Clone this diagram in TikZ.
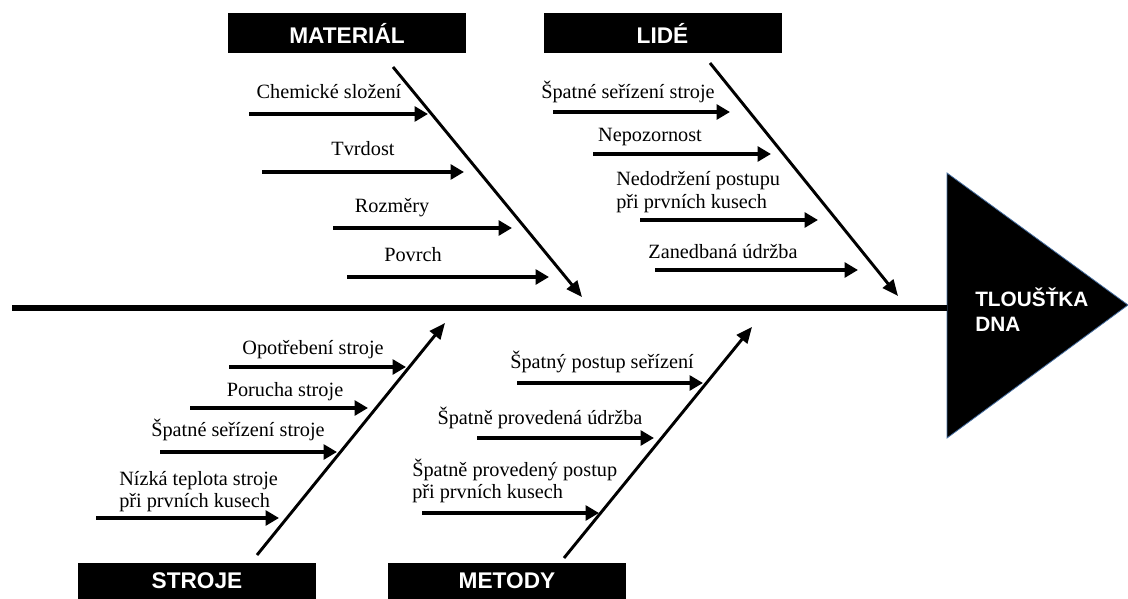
\documentclass[tikz,border=0pt]{standalone}
\usepackage{fontspec}
\setmainfont{Liberation Serif}
\setsansfont{Liberation Sans}
\usetikzlibrary{arrows.meta}

\tikzset{
  cathead/.style={fill=black, text=white, inner sep=0pt,
    font=\sffamily\bfseries\fontsize{17}{19}\selectfont,
    minimum width=178.5pt, minimum height=30pt},
  cause/.style={inner sep=0pt, font=\fontsize{15.2}{17}\selectfont},
  bone/.style={line width=2.2pt, -{Triangle[length=12pt,width=10pt]}},
  twig/.style={line width=2.6pt, -{Triangle[length=10pt,width=11pt]}},
}

\begin{document}
\begin{tikzpicture}[x=0.75pt,y=-0.75pt]
	\useasboundingbox (0,0) rectangle (1128,599);
	
	%%%%% head and spine %%%%%
	\coordinate (tail) at (12,308);
	\coordinate (hbase) at (947,308);
	\draw[fill=black, draw={rgb,255:red,70;green,110;blue,160}, line width=0.6pt]
		(947,173) -- (1128,305) -- (947,438) -- cycle;
	\draw[line width=5.2pt] (tail) -- (hbase);
	\node[anchor=west, align=left, text=white, inner sep=0pt,
		font=\sffamily\bfseries\fontsize{15.6}{18.5}\selectfont] (effect) at (975,309.5) {TLOUŠŤKA\\DNA};
	
	%%%%% categories %%%%%
	\node[cathead] (material) at (347,33) {MATERIÁL};
	\node[cathead] (lide) at (662.5,33) {LIDÉ};
	\node[cathead, minimum height=27pt] (stroje) at (197,581) {STROJE};
	\node[cathead, minimum height=27pt] (metody) at (507,581) {METODY};
	
	\coordinate (matA) at (393,67);   \coordinate (matB) at (582,297);
	\coordinate (lidA) at (710,63);   \coordinate (lidB) at (898,296);
	\coordinate (strA) at (257,555);  \coordinate (strB) at (445,323);
	\coordinate (metA) at (564,558);  \coordinate (metB) at (752,327);
	\draw[bone] (matA) -- (matB);
	\draw[bone] (lidA) -- (lidB);
	\draw[bone] (strA) -- (strB);
	\draw[bone] (metA) -- (metB);
	
	%%%%% MATERIAL %%%%%
	\node[cause] (chem) at (329,92) {Chemické složení};
	\node[cause] (tvrd) at (363,149) {Tvrdost};
	\node[cause] (rozm) at (392,208) {Rozměry};
	\node[cause] (povr) at (413,255) {Povrch};
	\coordinate (chem1) at (249,114); \coordinate (chem2) at (428,114);
	\coordinate (tvrd1) at (262,172); \coordinate (tvrd2) at (464,172);
	\coordinate (rozm1) at (333,228); \coordinate (rozm2) at (512,228);
	\coordinate (povr1) at (347,277); \coordinate (povr2) at (549,277);
	\draw[twig] (chem1) -- (chem2);
	\draw[twig] (tvrd1) -- (tvrd2);
	\draw[twig] (rozm1) -- (rozm2);
	\draw[twig] (povr1) -- (povr2);
	
	%%%%% LIDE %%%%%
	\node[cause] (serl) at (628,92) {Špatné seřízení stroje};
	\node[cause] (nepo) at (650,137) {Nepozornost};
	\node[cause, anchor=west, align=left] (nedo) at (616,192) {Nedodržení postupu\\při prvních kusech};
	\node[cause] (zane) at (723,252) {Zanedbaná údržba};
	\coordinate (serl1) at (553,112); \coordinate (serl2) at (730,112);
	\coordinate (nepo1) at (593,154); \coordinate (nepo2) at (771,154);
	\coordinate (nedo1) at (640,220); \coordinate (nedo2) at (818,220);
	\coordinate (zane1) at (655,270); \coordinate (zane2) at (858,270);
	\draw[twig] (serl1) -- (serl2);
	\draw[twig] (nepo1) -- (nepo2);
	\draw[twig] (nedo1) -- (nedo2);
	\draw[twig] (zane1) -- (zane2);
	
	%%%%% STROJE %%%%%
	\node[cause] (opot) at (313,350) {Opotřebení stroje};
	\node[cause] (poru) at (285,392) {Porucha stroje};
	\node[cause] (sers) at (238,430) {Špatné seřízení stroje};
	\node[cause, anchor=west, align=left] (nizk) at (119,491.5) {Nízká teplota stroje\\při prvních kusech};
	\coordinate (opot1) at (229,367); \coordinate (opot2) at (406,367);
	\coordinate (poru1) at (190,408); \coordinate (poru2) at (368,408);
	\coordinate (sers1) at (160,452); \coordinate (sers2) at (337,452);
	\coordinate (nizk1) at (96,518);  \coordinate (nizk2) at (279,518);
	\draw[twig] (opot1) -- (opot2);
	\draw[twig] (poru1) -- (poru2);
	\draw[twig] (sers1) -- (sers2);
	\draw[twig] (nizk1) -- (nizk2);
	
	%%%%% METODY %%%%%
	\node[cause] (post) at (602,362) {Špatný postup seřízení};
	\node[cause] (udrz) at (540,418) {Špatně provedená údržba};
	\node[cause, anchor=west, align=left] (prov) at (412,481) {Špatně provedený postup\\při prvních kusech};
	\coordinate (post1) at (517,383); \coordinate (post2) at (703,383);
	\coordinate (udrz1) at (477,438); \coordinate (udrz2) at (654,438);
	\coordinate (prov1) at (422,513); \coordinate (prov2) at (599,513);
	\draw[twig] (post1) -- (post2);
	\draw[twig] (udrz1) -- (udrz2);
	\draw[twig] (prov1) -- (prov2);
\end{tikzpicture}
\end{document}
